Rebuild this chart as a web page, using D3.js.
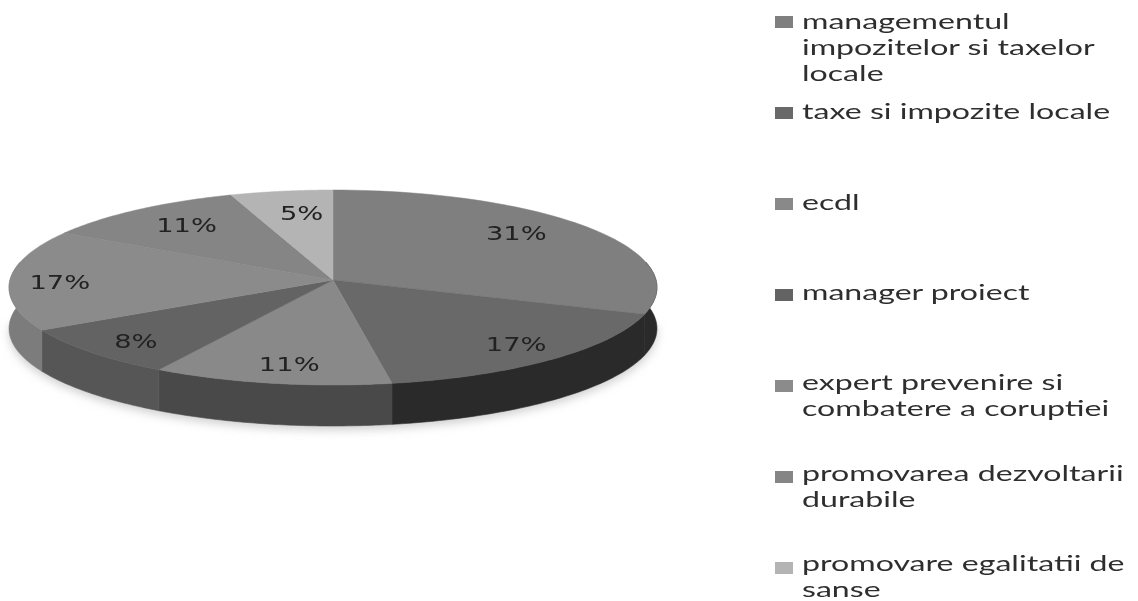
<!DOCTYPE html>
<html>
<head>
<meta charset="utf-8">
<script src="https://cdn.jsdelivr.net/npm/d3@7/dist/d3.min.js"></script>
<style>html,body{margin:0;padding:0;background:#fff;overflow:hidden}</style>
</head>
<body>
<svg id="chart" width="1138" height="601"></svg>
<script>
// --- data ---
const categories = [
  ["managementul", "impozitelor si taxelor", "locale"],
  ["taxe si impozite locale"],
  ["ecdl"],
  ["manager proiect"],
  ["expert prevenire si", "combatere a coruptiei"],
  ["promovarea dezvoltarii", "durabile"],
  ["promovare egalitatii de", "sanse"]
];
const values = [30.6, 16.7, 11.1, 8.3, 16.7, 11.1, 5.5];
const percentLabels = ["31%", "17%", "11%", "8%", "17%", "11%", "5%"];

// --- styles ---
const topColors  = ["#7f7f7f", "#696969", "#898989", "#646464", "#8b8b8b", "#858585", "#b4b4b4"];
const wallColors = ["#2a2a2a", "#2c2c2c", "#494949", "#575757", "#7c7c7c", "#7c7c7c", "#7c7c7c"];
const labelNudge = [[-9,-7],[21,6],[2,8],[-18,8],[-31,2],[2,-1],[8,1]];

// --- layout ---
const apexX = 333, apexY = 280, radiusX = 323, radiusY = 96.9, tilt = 0.0769, depth = 41;
const svg = d3.select("#chart");

// perspective projection of a point of the unit disc (angle clockwise from top)
function project(angle, r) {
  const u = r * Math.sin(angle), v = r * Math.cos(angle), w = 1 + tilt * v;
  return [apexX + radiusX * u / w, apexY - radiusY * v / w];
}
const line = d3.line();
const pie = d3.pie().sort(null).value(d => d);
const arcs = pie(values);
const rim = (a, b) => d3.range(0, 61).map(i => a + (b - a) * i / 60);

const defs = svg.append("defs");
const soft = defs.append("filter").attr("id", "soft")
  .attr("x", "-5%").attr("y", "-5%").attr("width", "110%").attr("height", "110%");
soft.append("feGaussianBlur").attr("stdDeviation", 0.55);
const shadow = defs.append("filter").attr("id", "shadow")
  .attr("x", "-10%").attr("y", "-30%").attr("width", "120%").attr("height", "160%");
shadow.append("feGaussianBlur").attr("stdDeviation", 5);

const chart = svg.append("g").attr("filter", "url(#soft)");

// soft ground shadow
chart.append("path")
  .attr("d", line(rim(Math.PI * 0.5, Math.PI * 1.5).map(t => {
    const p = project(t, 1); return [p[0], p[1] + depth + 4];
  })) + "Z")
  .attr("fill", "#cfcfcf").attr("filter", "url(#shadow)");

// side walls, only the part of the rim that faces the viewer
const wallFrom = Math.PI * 0.44, wallTo = Math.PI * 1.56;
chart.selectAll("path.wall").data(arcs).join("path")
  .attr("class", "wall")
  .attr("fill", (d, i) => wallColors[i])
  .attr("stroke", (d, i) => wallColors[i])
  .attr("stroke-width", 0.6)
  .attr("d", d => {
    const a = Math.max(d.startAngle, wallFrom), b = Math.min(d.endAngle, wallTo);
    if (b <= a) return null;
    const up = rim(a, b).map(t => project(t, 1));
    const down = up.map(p => [p[0], p[1] + depth]).reverse();
    return line(up.concat(down)) + "Z";
  });

// top faces
chart.selectAll("path.slice").data(arcs).join("path")
  .attr("class", "slice")
  .attr("fill", (d, i) => topColors[i])
  .attr("stroke", (d, i) => topColors[i])
  .attr("stroke-width", 0.5)
  .attr("d", d => line([[apexX, apexY]].concat(rim(d.startAngle, d.endAngle).map(t => project(t, 1)))) + "Z");

// percentage labels
chart.selectAll("text.pct").data(arcs).join("text")
  .attr("class", "pct")
  .attr("transform", (d, i) => {
    const p = project((d.startAngle + d.endAngle) / 2, 0.75);
    return `translate(${p[0] + labelNudge[i][0]},${p[1] + labelNudge[i][1]}) scale(1.44,1)`;
  })
  .attr("text-anchor", "middle")
  .attr("dy", "0.36em")
  .attr("font-family", "DejaVu Sans")
  .attr("font-size", 19)
  .attr("fill", "#222")
  .text((d, i) => percentLabels[i]);

// legend
const rowY = d3.scaleLinear().domain([0, 6]).range([22, 568]);
const textY = d3.scaleLinear().domain([0, 6]).range([29, 571]);
const legendX = 802, swatchX = 775, swatchW = 18, swatchH = 12, lineStep = 26;
const rows = chart.selectAll("g.row").data(categories).join("g").attr("class", "row");
rows.append("rect")
  .attr("x", swatchX).attr("y", (d, i) => rowY(i) - swatchH / 2)
  .attr("width", swatchW).attr("height", swatchH)
  .attr("fill", (d, i) => topColors[i]);
rows.each(function (lines, i) {
  d3.select(this).selectAll("text").data(lines).join("text")
    .attr("transform", (d, j) => `translate(${legendX},${textY(i) + j * lineStep}) scale(1.46,1)`)
    .attr("font-family", "Lato")
    .attr("font-size", 22)
    .attr("fill", "#2e2e2e")
    .text(d => d);
});
</script>
</body>
</html>
